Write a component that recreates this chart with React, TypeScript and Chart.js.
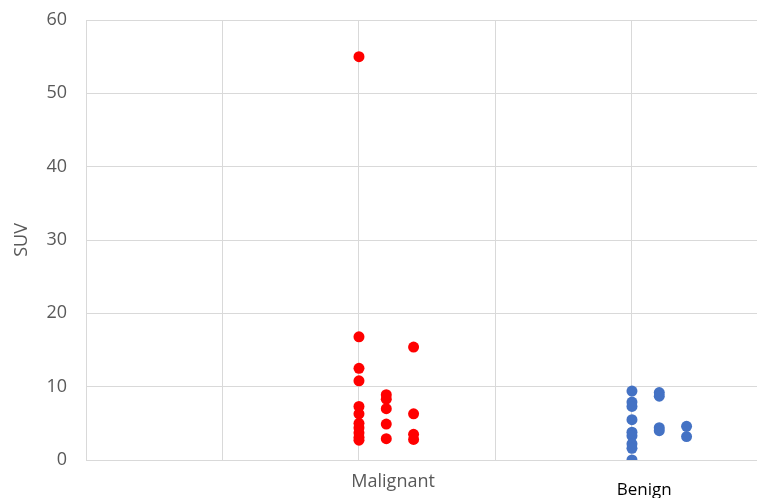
import React, { useEffect, useRef } from "react";
import { Chart, registerables } from "chart.js";

Chart.register(...registerables);

const malignantX1 = 2.0;
const malignantX2 = 2.2;
const malignantX3 = 2.4;
const benignX1 = 4.0;
const benignX2 = 4.2;
const benignX3 = 4.4;

const malignantCol1 = [55, 16.8, 12.5, 10.8, 7.3, 6.3, 5.0, 4.4, 3.7, 3.1, 2.7];
const malignantCol2 = [8.9, 8.3, 7.0, 4.9, 2.9];
const malignantCol3 = [15.4, 6.3, 3.5, 2.8];
const benignCol1 = [9.4, 7.9, 7.3, 5.5, 3.8, 3.3, 2.2, 1.6, 0];
const benignCol2 = [9.2, 8.7, 4.4, 4.0];
const benignCol3 = [4.6, 3.2];

const yTicks = [0, 10, 20, 30, 40, 50, 60];
const xGrid = [0, 1, 2, 3, 4];
const categoryLabels = [
  { text: "Malignant", x: 2.25 },
  { text: "Benign", x: 4.09 },
];

const pts = (x: number, arr: number[]) => arr.map((y) => ({ x, y }));

export default function App() {
  const ref = useRef<HTMLCanvasElement | null>(null);
  useEffect(() => {
    if (!ref.current) return;
    const labelPlugin = {
      id: "catLabels",
      afterDraw(chart: any) {
        const ctx = chart.ctx;
        const xs = chart.scales.x;
        ctx.save();
        ctx.textAlign = "center";
        ctx.textBaseline = "middle";
        categoryLabels.forEach((l, i) => {
          const px = xs.getPixelForValue(l.x);
          if (i === 0) {
            ctx.fillStyle = "#595959";
            ctx.font = "18px 'Open Sans'";
            ctx.fillText(l.text, px, chart.chartArea.bottom + 22);
          } else {
            ctx.fillStyle = "#000000";
            ctx.font = "17px 'Open Sans'";
            ctx.fillText(l.text, px, chart.chartArea.bottom + 30);
          }
        });
        ctx.restore();
      },
    };
    const red = "#FF0000";
    const blue = "#4472C4";
    const ds = (data: any[], color: string) => ({
      data,
      backgroundColor: color,
      borderColor: color,
      pointRadius: 5.5,
      pointHoverRadius: 5.5,
      borderWidth: 0,
    });
    const chart = new Chart(ref.current, {
      type: "scatter",
      data: {
        datasets: [
          ds(pts(malignantX1, malignantCol1), red),
          ds(pts(malignantX2, malignantCol2), red),
          ds(pts(malignantX3, malignantCol3), red),
          ds(pts(benignX1, benignCol1), blue),
          ds(pts(benignX2, benignCol2), blue),
          ds(pts(benignX3, benignCol3), blue),
        ],
      },
      options: {
        animation: false,
        responsive: false,
        events: [],
        layout: { autoPadding: false, padding: { top: 20, right: 0, left: 0, bottom: 0 } },
        plugins: { legend: { display: false }, tooltip: { enabled: false } },
        scales: {
          x: {
            type: "linear",
            min: 0,
            max: 4.916,
            afterBuildTicks: (s: any) => {
              s.ticks = xGrid.map((v) => ({ value: v }));
            },
            afterFit: (s: any) => {
              s.height = 38;
              s.paddingLeft = 0;
              s.paddingRight = 0;
            },
            ticks: { display: false },
            grid: { color: "#d9d9d9", lineWidth: 1, drawTicks: false },
            border: { display: false },
          },
          y: {
            min: 0,
            max: 60,
            afterBuildTicks: (s: any) => {
              s.ticks = yTicks.map((v) => ({ value: v }));
            },
            afterFit: (s: any) => {
              s.width = 86;
              s.paddingTop = 0;
              s.paddingBottom = 0;
            },
            ticks: {
              color: "#595959",
              font: { family: "'Open Sans'", size: 18 },
              padding: 19,
            },
            grid: { color: "#d9d9d9", lineWidth: 1, drawTicks: false },
            border: { display: true, color: "#d9d9d9", width: 1 },
            title: {
              display: true,
              text: "SUV",
              color: "#595959",
              font: { family: "'Open Sans'", size: 18 },
              padding: { top: 11, bottom: 0 },
            },
          },
        },
      },
      plugins: [labelPlugin],
    } as any);
    return () => chart.destroy();
  }, []);
  return (
    <div style={{ position: "fixed", left: 0, top: 0, width: 757, height: 498, background: "#fff" }}>
      <canvas ref={ref} width={757} height={498} style={{ width: 757, height: 498 }} />
    </div>
  );
}
